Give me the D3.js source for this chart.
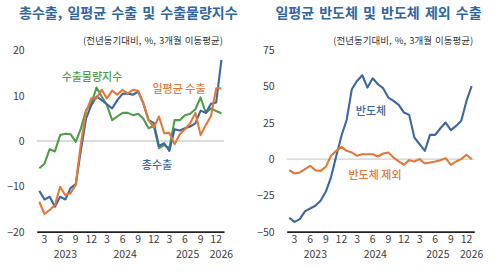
<!DOCTYPE html>
<html>
<head>
<meta charset="utf-8">
<script src="https://cdn.jsdelivr.net/npm/d3@7"></script>
<style>
  body { margin: 0; background: #fff; }
  text { font-family: "Noto Sans CJK KR", "Noto Sans", sans-serif; }
</style>
</head>
<body>
<div id="chart"></div>
<script>
// months Feb 2023 .. Jan 2026
const months = [
  "2023-02","2023-03","2023-04","2023-05","2023-06","2023-07","2023-08","2023-09","2023-10","2023-11","2023-12",
  "2024-01","2024-02","2024-03","2024-04","2024-05","2024-06","2024-07","2024-08","2024-09","2024-10","2024-11","2024-12",
  "2025-01","2025-02","2025-03","2025-04","2025-05","2025-06","2025-07","2025-08","2025-09","2025-10","2025-11","2025-12",
  "2026-01"
];
const years = ["2023", "2024", "2025", "2026"];

// left panel (%, yoy, 3mma)
const totalExports = [-11.0,-12.9,-12.3,-14.5,-12.3,-12.9,-10.4,-9.5,-2.0,5.0,7.9,9.8,9.0,8.1,7.2,9.0,10.4,10.5,10.2,10.9,8.3,4.6,4.0,-1.1,-0.5,-2.2,2.6,2.3,2.8,3.2,3.9,6.7,6.2,8.2,8.5,17.9];
const dailyExports = [-13.4,-16.1,-15.2,-14.1,-10.1,-11.9,-11.5,-9.7,-0.5,6.5,9.4,9.4,11.3,9.4,11.1,10.2,11.3,10.5,11.3,11.1,8.3,4.6,3.0,5.4,1.7,1.8,-0.7,1.5,2.6,3.9,6.2,1.3,3.5,5.5,11.6,11.6];
const exportVolume = [-6.0,-5.0,-1.8,-2.3,1.3,1.6,1.5,-0.2,2.8,6.8,8.3,11.8,9.8,7.9,4.6,5.4,6.2,6.2,5.7,6.0,4.9,2.8,3.3,-1.6,-0.9,-1.6,4.6,4.6,5.7,6.0,7.0,9.6,6.2,7.2,6.6,6.1];

// right panel
const semiDaily = [-40.5,-43.2,-41.3,-36.0,-34.0,-32.1,-28.7,-22.5,-12.5,2.0,16.0,27.0,48.2,53.9,57.8,49.3,55.7,51.6,48.9,42.4,40.1,37.4,32.1,30.5,14.9,10.3,5.7,16.7,16.7,21.3,25.2,20.0,22.9,26.4,40.1,50.4];
const nonSemiDaily = [-7.6,-9.9,-9.2,-6.9,-4.6,-7.6,-8.1,-5.3,2.3,5.7,8.5,5.7,4.6,2.3,3.4,3.4,3.4,1.8,3.9,4.6,1.1,-1.6,-3.9,-0.7,-1.6,0,-3.0,-2.3,-1.6,-0.7,0.7,-3.9,-1.6,0,3.0,0];

const leftTicks = [-20, -10, 0, 10, 20];
const rightTicks = [-50, -25, 0, 25, 50, 75];

const BLUE = "#3d67a3", ORANGE = "#e2783a", GREEN = "#4e9c4c", TITLE = "#2f66a3";

const svg = d3.select("#chart").append("svg")
  .attr("width", 500)
  .attr("height", 277);

function drawPanel(p) {
  const x = d3.scaleBand().domain(months).range([p.x0, p.x1]).padding(0);
  const y = d3.scaleLinear().domain(p.domain).range([231.7, 50.3]);
  const cx = d => x(d) + x.bandwidth() / 2;

  // title + subtitle
  svg.append("text")
    .attr("x", (p.x0 + p.x1) / 2 - 2)
    .attr("y", 18)
    .attr("text-anchor", "middle")
    .attr("font-size", "14px")
    .attr("font-weight", "bold")
    .attr("word-spacing", "2px")
    .attr("fill", TITLE)
    .text(p.title);
  svg.append("text")
    .attr("x", p.x1 - 1)
    .attr("y", 44)
    .attr("text-anchor", "end")
    .attr("font-size", "9.5px")
    .attr("word-spacing", "1px")
    .attr("fill", "#333")
    .text("(전년동기대비, %, 3개월 이동평균)");

  // y axis labels
  const yAxis = svg.append("g")
    .attr("transform", `translate(${p.x0},0)`)
    .call(d3.axisLeft(y).tickValues(p.ticks).tickSize(0).tickPadding(12));
  yAxis.select(".domain").remove();
  yAxis.selectAll("text")
    .attr("font-size", "10.5px")
    .attr("fill", "#404040")
    .style("font-family", "'Noto Sans CJK KR', sans-serif");

  // zero line
  svg.append("line")
    .attr("x1", p.x0).attr("x2", p.x1)
    .attr("y1", y(0)).attr("y2", y(0))
    .attr("stroke", "#d0d0d0")
    .attr("stroke-width", 1.3);

  // bottom axis
  const xAxis = svg.append("g")
    .attr("transform", `translate(0,${y(p.domain[0])})`)
    .call(d3.axisBottom(x)
      .tickValues(months.filter(m => +m.slice(5) % 3 === 0))
      .tickFormat(m => +m.slice(5))
      .tickSize(0).tickPadding(4));
  xAxis.select(".domain")
    .attr("stroke", "#222")
    .attr("stroke-width", 1.8);
  xAxis.selectAll("text")
    .attr("font-size", "10.5px")
    .attr("fill", "#404040")
    .style("font-family", "'Noto Sans CJK KR', sans-serif");

  // year labels centred on each year's months
  years.forEach(yr => {
    const ms = months.filter(m => m.startsWith(yr));
    const c = (cx(ms[0]) + cx(ms[ms.length - 1])) / 2;
    svg.append("text")
      .attr("x", c)
      .attr("y", 258)
      .attr("text-anchor", "middle")
      .attr("font-size", "10.5px")
      .attr("fill", "#404040")
      .text(yr);
  });

  // lines
  const line = d3.line()
    .x((d, i) => cx(months[i]))
    .y(d => y(d));
  p.series.forEach(s => {
    svg.append("path")
      .datum(s.values)
      .attr("d", line)
      .attr("fill", "none")
      .attr("stroke", s.color)
      .attr("stroke-width", 2.1)
      .attr("stroke-linejoin", "round");
  });

  // series labels
  p.series.forEach(s => {
    svg.append("text")
      .attr("x", s.lx)
      .attr("y", s.ly)
      .attr("text-anchor", "middle")
      .attr("font-size", "11px")
      .attr("font-weight", 500)
      .attr("fill", s.color)
      .text(s.name);
  });
}

drawPanel({
  x0: 36.7, x1: 224,
  domain: [-20, 20],
  ticks: leftTicks,
  title: "총수출, 일평균 수출 및 수출물량지수",
  series: [
    { name: "수출물량지수", values: exportVolume, color: GREEN, lx: 92, ly: 81 },
    { name: "총수출", values: totalExports, color: BLUE, lx: 157, ly: 169 },
    { name: "일평균 수출", values: dailyExports, color: ORANGE, lx: 179, ly: 93 }
  ]
});

drawPanel({
  x0: 286.7, x1: 474.3,
  domain: [-50, 75],
  ticks: rightTicks,
  title: "일평균 반도체 및 반도체 제외 수출",
  series: [
    { name: "반도체", values: semiDaily, color: BLUE, lx: 371, ly: 115 },
    { name: "반도체 제외", values: nonSemiDaily, color: ORANGE, lx: 375, ly: 179 }
  ]
});
</script>
</body>
</html>
